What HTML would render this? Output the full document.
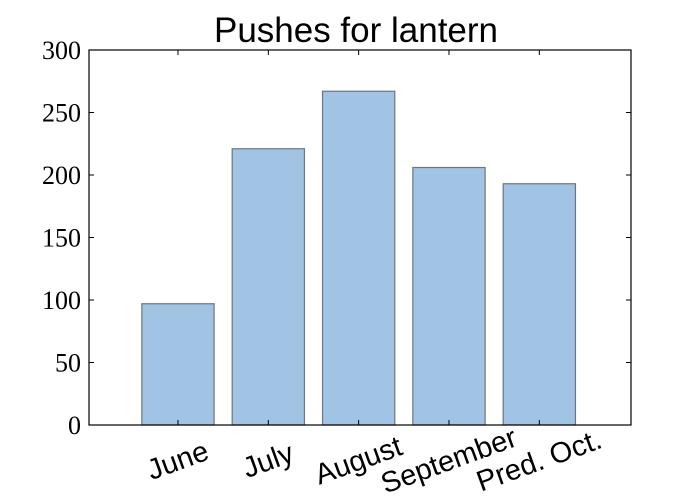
<!DOCTYPE html>
<html><head><meta charset="utf-8"><style>body{margin:0;background:#fff}svg{display:block}</style></head>
<body>
<svg id="chart" width="700" height="500" xmlns="http://www.w3.org/2000/svg"></svg>
<script>
const categories = ["June","July","August","September","Pred. Oct."];
const pushes = [97, 221, 267, 206, 193];
const yTicks = [0,50,100,150,200,250,300];
const NS="http://www.w3.org/2000/svg";
const svg=document.getElementById('chart');
const L=89,R=631,T=50,B=425;
function x(i){return L+(R-L)*(i+0.985)/6;}
function y(v){return B-(B-T)*v/300;}
const bw=(R-L)/6*0.8;
function mk(tag,attrs,parent){const e=document.createElementNS(NS,tag);for(const k in attrs)e.setAttribute(k,attrs[k]);(parent||svg).appendChild(e);return e;}
const t=mk('text',{x:356,y:42,'text-anchor':'middle','font-family':'Liberation Sans, sans-serif','font-size':35,fill:'#000'});
t.textContent='Pushes for lantern';


pushes.forEach((v,i)=>{
  const r=mk('rect',{x:x(i)-bw/2,y:y(v),width:bw,height:B-y(v),fill:'#a1c3e4',stroke:'#6b7680','stroke-width':1.2});
  
  
});
yTicks.forEach(v=>{
  mk('line',{x1:L,x2:L+5,y1:y(v),y2:y(v),stroke:'#000'});
  mk('line',{x1:R,x2:R-5,y1:y(v),y2:y(v),stroke:'#000'});
  const lb=mk('text',{x:L-8,y:y(v)+9,'text-anchor':'end','font-family':'Liberation Serif, serif','font-size':26,fill:'#000'});
  lb.textContent=v;
  
  
});
categories.forEach((c,i)=>{
  mk('line',{x1:x(i),x2:x(i),y1:B,y2:B-5,stroke:'#000'});
  mk('line',{x1:x(i),x2:x(i),y1:T,y2:T+5,stroke:'#000'});
  const lb=mk('text',{x:x(i),y:470,'text-anchor':'middle','font-family':'Liberation Sans, sans-serif','font-size':29,fill:'#000',transform:`rotate(-20 ${x(i)} 461)`});
  lb.textContent=c;
  
  
});
const f=mk('rect',{x:L,y:T,width:R-L,height:B-T,fill:'none',stroke:'#000','stroke-width':1.2});


</script>
</body></html>
